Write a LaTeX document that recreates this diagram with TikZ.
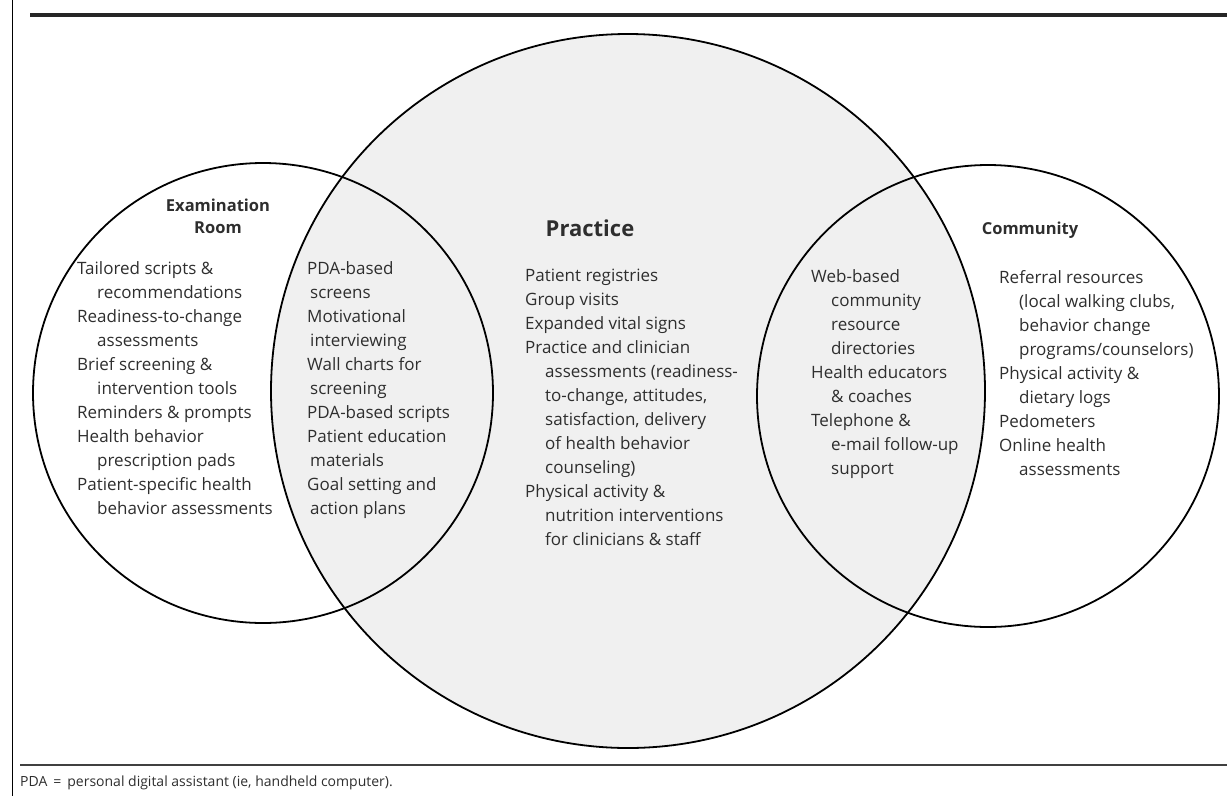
\documentclass[tikz,border=0pt]{standalone}
\usepackage{fontspec}
\setmainfont{Open Sans}
\definecolor{practicegray}{HTML}{F0F0F0}
\definecolor{textgray}{HTML}{2E2E2E}
\begin{document}
\begin{tikzpicture}[x=1pt,y=-1pt,
  item/.style={anchor=north west,inner sep=0pt,align=left,text=textgray,font=\fontsize{17}{24}\selectfont},
  head/.style={inner sep=0pt,align=center,text=textgray,font=\bfseries\fontsize{16.5}{22}\selectfont}]
\useasboundingbox (0,0) rectangle (1227,796);
\fill[practicegray] (628,391) circle (357pt);
\draw[line width=1.8pt] (628,391) circle (357pt);
\draw[line width=1.8pt] (263,393) circle (230pt);
\draw[line width=1.8pt] (988,396) circle (231pt);
\draw[line width=0.9pt] (12,0) -- (12,796);
\draw[line width=4pt,black!85] (30,15) -- (1227,15);
\draw[line width=1.2pt,black!75] (20,765) -- (1227,765);
\node[head] (exam) at (218,216) {Examination\\Room};
\node[head,font=\bfseries\fontsize{22}{28}\selectfont] (practice) at (590,228) {Practice};
\node[head] (community) at (1030,230) {Community};
\node[item] (examlist) at (77,261) {Tailored scripts \&\\
\hspace*{20pt}recommendations\\
Readiness-to-change\\
\hspace*{20pt}assessments\\
Brief screening \&\\
\hspace*{20pt}intervention tools\\
Reminders \& prompts\\
Health behavior\\
\hspace*{20pt}prescription pads\\
Patient-specific health\\
\hspace*{20pt}behavior assessments};
\node[item] (examlens) at (307,261) {PDA-based\\
\hspace*{3pt}screens\\
Motivational\\
\hspace*{3pt}interviewing\\
Wall charts for\\
\hspace*{3pt}screening\\
PDA-based scripts\\
Patient education\\
\hspace*{3pt}materials\\
Goal setting and\\
\hspace*{3pt}action plans};
\node[item] (practicelist) at (525,269) {Patient registries\\
Group visits\\
Expanded vital signs\\
Practice and clinician\\
\hspace*{20pt}assessments (readiness-\\
\hspace*{20pt}to-change, attitudes,\\
\hspace*{20pt}satisfaction, delivery\\
\hspace*{20pt}of health behavior\\
\hspace*{20pt}counseling)\\
Physical activity \&\\
\hspace*{20pt}nutrition interventions\\
\hspace*{20pt}for clinicians \& staff};
\node[item] (communitylens) at (811,269) {Web-based\\
\hspace*{20pt}community\\
\hspace*{20pt}resource\\
\hspace*{20pt}directories\\
Health educators\\
\hspace*{20pt}\& coaches\\
Telephone \&\\
\hspace*{20pt}e-mail follow-up\\
\hspace*{20pt}support};
\node[item] (communitylist) at (999,270) {Referral resources\\
\hspace*{20pt}(local walking clubs,\\
\hspace*{20pt}behavior change\\
\hspace*{20pt}programs/counselors)\\
Physical activity \&\\
\hspace*{20pt}dietary logs\\
Pedometers\\
Online health\\
\hspace*{20pt}assessments};
\node[anchor=west,inner sep=0pt,text=textgray,font=\fontsize{14}{16}\selectfont] (footnote) at (20,783) {PDA \,=\, personal digital assistant (ie, handheld computer).};
\end{tikzpicture}
\end{document}
